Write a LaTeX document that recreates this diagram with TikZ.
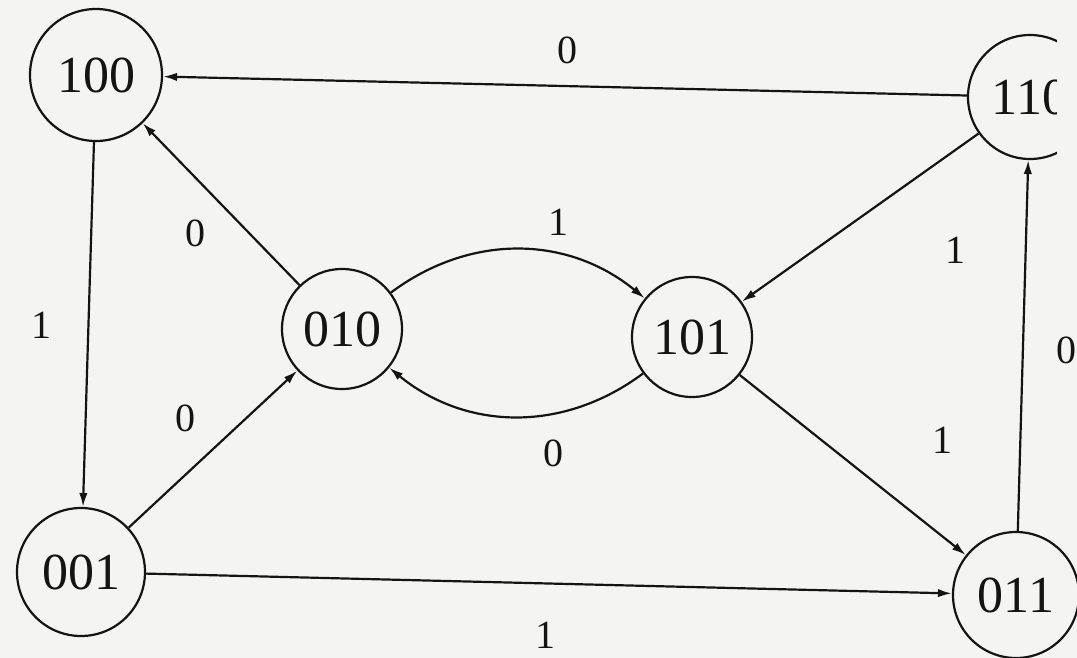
\documentclass[tikz,border=0pt]{standalone}
\usepackage{fontspec}
\setmainfont{Liberation Serif}
\usetikzlibrary{arrows.meta}
\definecolor{paper}{RGB}{244,244,243}
\definecolor{ink}{RGB}{20,20,20}
\begin{document}
\begin{tikzpicture}[x=0.5pt,y=-0.5pt,
  state/.style={circle,draw=ink,line width=1.1pt,inner sep=0pt,font=\fontsize{26}{28}\selectfont,text=ink},
  edge/.style={draw=ink,line width=1.1pt,-{Latex[length=7pt,width=4.2pt]}},
  lbl/.style={font=\fontsize{20}{22}\selectfont,text=ink,inner sep=0pt}]
\useasboundingbox (0,0) rectangle (1077,658);
\clip (0,0) rectangle (1077,658);
\fill[paper] (0,0) rectangle (1077,658);
\node[state,minimum size=132pt*0.5] (n100) at (96,75) {100};
\node[state,minimum size=124pt*0.5] (n110) at (1030,97) {110};
\node[state,minimum size=120pt*0.5] (n010) at (342,329) {010};
\node[state,minimum size=120pt*0.5] (n101) at (692,337) {101};
\node[state,minimum size=128pt*0.5] (n001) at (81,572) {001};
\node[state,minimum size=126pt*0.5] (n011) at (1016,595) {011};
\draw[edge] (n110) -- (n100);
\draw[edge] (n100) -- (n001);
\draw[edge] (n001) -- (n010);
\draw[edge] (n010) -- (n100);
\draw[edge] (n010) to[bend left=38] (n101);
\draw[edge] (n101) to[bend left=38] (n010);
\draw[edge] (n110) -- (n101);
\draw[edge] (n101) -- (n011);
\draw[edge] (n011) -- (n110);
\draw[edge] (n001) -- (n011);
% the scan is cut off at the top right
\fill[paper] (1057,0) rectangle (1077,300);
\node[lbl] (l1) at (567,50) {0};
\node[lbl] (l2) at (195,233) {0};
\node[lbl] (l3) at (42,325) {1};
\node[lbl] (l4) at (185,418) {0};
\node[lbl] (l5) at (558,222) {1};
\node[lbl] (l6) at (553,453) {0};
\node[lbl] (l7) at (955,250) {1};
\node[lbl] (l8) at (942,440) {1};
\node[lbl] (l9) at (1066,350) {0};
\node[lbl] (l10) at (545,635) {1};
\end{tikzpicture}
\end{document}
